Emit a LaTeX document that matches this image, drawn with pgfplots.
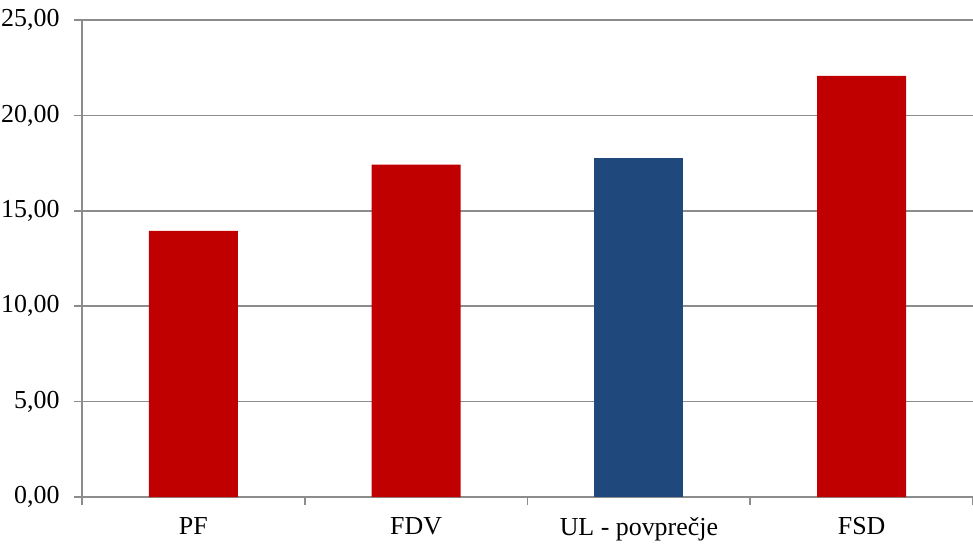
\documentclass[border=0pt]{standalone}
\usepackage{pgfplots}
\pgfplotsset{compat=1.18}
\usepackage{fontspec}
\setmainfont{Liberation Serif}
\definecolor{barred}{HTML}{C00000}
\definecolor{barblue}{HTML}{1F497D}
\definecolor{axgray}{HTML}{8C8C8C}
\begin{document}
\begin{tikzpicture}
\begin{axis}[
  name=ax,
  scale only axis, width=891bp, height=477bp,
  xmin=-0.5, xmax=3.5, ymin=0, ymax=25,
  axis x line*=bottom, axis y line*=left,
  axis line style={axgray, line width=1.6bp},
  xtick={0,1,2,3}, xticklabels={PF,FDV,UL - povprečje,FSD},
  major x tick style={draw=none},
  minor xtick={-0.5,0.5,1.5,2.5,3.5},
  ytick={0,5,...,25},
  tick align=outside,
  major tick length=8bp, minor tick length=8bp,
  tick style={axgray, line width=1.6bp},
  ymajorgrids, grid style={axgray, line width=1.6bp},
  /pgf/number format/.cd, fixed, fixed zerofill, precision=2, use comma, 1000 sep={}, assume math mode=true,
  /pgfplots/.cd,
  tick label style={font=\fontsize{26}{30}\selectfont, black},
  yticklabel style={xshift=-11bp},
  xticklabel style={yshift=-9bp},
  ybar, bar width=89bp,
]
\addplot[ybar, bar shift=0pt, fill=barred, draw=none] coordinates {(0,13.95) (1,17.42) (3,22.07)};
\addplot[ybar, bar shift=0pt, fill=barblue, draw=none] coordinates {(2,17.78)};
\end{axis}
\pgfresetboundingbox
\path ([shift={(-82bp,-46bp)}]ax.south west) rectangle ([shift={(0bp,20bp)}]ax.north east);
\end{tikzpicture}
\end{document}
